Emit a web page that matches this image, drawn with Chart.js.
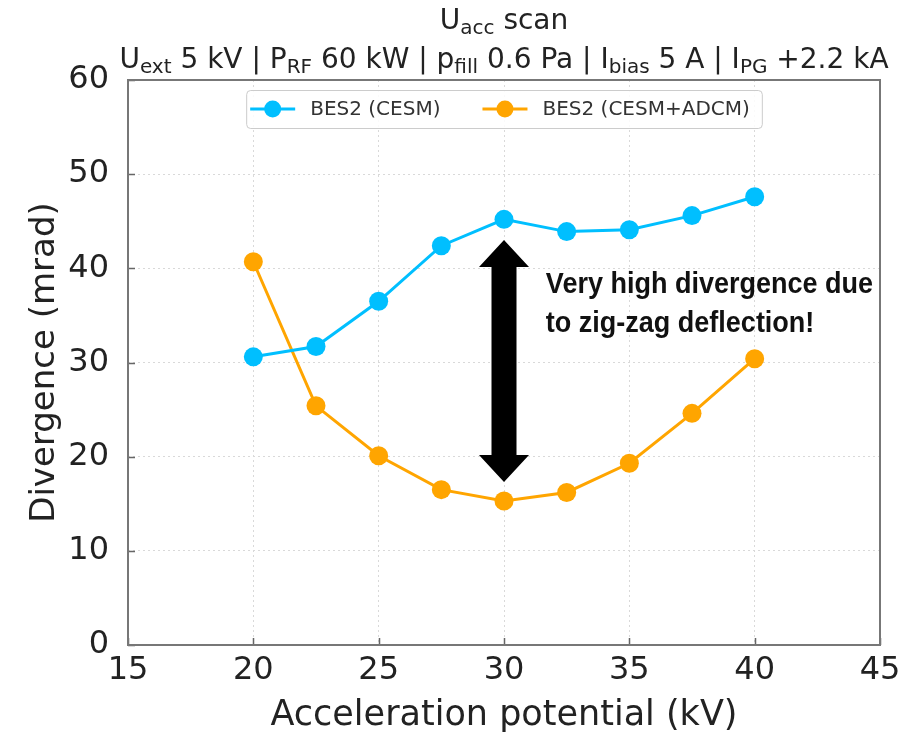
<!DOCTYPE html>
<html>
<head>
<meta charset="utf-8">
<script src="https://cdn.jsdelivr.net/npm/chart.js@4.4.1/dist/chart.umd.min.js"></script>
<style>
  html, body { margin: 0; padding: 0; background: #fff; }
</style>
</head>
<body>
<canvas id="scanChart" width="910" height="737"></canvas>
<script>
// Acceleration voltage scan, beam divergence per configuration
const accVoltage = [20, 22.5, 25, 27.5, 30, 32.5, 35, 37.5, 40];
const divCESM = [30.6, 31.7, 36.5, 42.4, 45.2, 43.9, 44.1, 45.6, 47.6];
const divCESMADCM = [40.7, 25.4, 20.1, 16.5, 15.3, 16.2, 19.3, 24.6, 30.4];
const seriesLabels = ['BES2 (CESM)', 'BES2 (CESM+ADCM)'];
const seriesColors = ['#00BFFF', '#FFA500'];

const xTicks = [15, 20, 25, 30, 35, 40, 45];
const yTicks = [0, 10, 20, 30, 40, 50, 60];

// title lines: [text, isSubscript]
const titleLine1 = [['U', false], ['acc', true], [' scan', false]];
const titleLine2 = [
    ['U', false], ['ext', true], [' 5 kV | P', false], ['RF', true],
    [' 60 kW | p', false], ['fill', true], [' 0.6 Pa | I', false], ['bias', true],
    [' 5 A | I', false], ['PG', true], [' +2.2 kA', false]
];

// double arrow between the two curves (data units)
const arrowX = 30;
const arrowFrom = 17.3;
const arrowTo = 43.0;
const noteLines = ['Very high divergence due', 'to zig-zag deflection!'];
const noteX = 31.67;
const noteY = [37.4, 33.2];

const FONT = "'DejaVu Sans', sans-serif";
const NOTE_FONT = "bold 30px 'Liberation Sans', Arial, sans-serif";
const NOTE_SQUEEZE = 0.9;

function drawRichLine(ctx, parts, cx, baseline, size) {
    const mainFont = size + 'px ' + FONT;
    const subFont = Math.round(size * 0.7) + 'px ' + FONT;
    let total = 0;
    parts.forEach(([t, sub]) => {
        ctx.font = sub ? subFont : mainFont;
        total += ctx.measureText(t).width;
    });
    let x = cx - total / 2;
    ctx.textAlign = 'left';
    ctx.textBaseline = 'alphabetic';
    parts.forEach(([t, sub]) => {
        ctx.font = sub ? subFont : mainFont;
        ctx.fillText(t, x, baseline + (sub ? size * 0.18 : 0));
        x += ctx.measureText(t).width;
    });
}

const decorations = {
    id: 'decorations',
    beforeDraw(chart) {
        const ctx = chart.ctx;
        ctx.save();
        ctx.fillStyle = '#fff';
        ctx.fillRect(0, 0, chart.width, chart.height);
        ctx.restore();
    },
    afterDatasetsDraw(chart) {
        const ctx = chart.ctx;
        const xs = chart.scales.x, ys = chart.scales.y;

        // black double-headed arrow
        const cx = xs.getPixelForValue(arrowX);
        const yTop = ys.getPixelForValue(arrowTo);
        const yBot = ys.getPixelForValue(arrowFrom);
        const headLen = 27, headHalf = 25, shaftHalf = 12.5;
        ctx.save();
        ctx.fillStyle = '#000';
        ctx.beginPath();
        ctx.moveTo(cx, yTop);
        ctx.lineTo(cx + headHalf, yTop + headLen);
        ctx.lineTo(cx + shaftHalf, yTop + headLen);
        ctx.lineTo(cx + shaftHalf, yBot - headLen);
        ctx.lineTo(cx + headHalf, yBot - headLen);
        ctx.lineTo(cx, yBot);
        ctx.lineTo(cx - headHalf, yBot - headLen);
        ctx.lineTo(cx - shaftHalf, yBot - headLen);
        ctx.lineTo(cx - shaftHalf, yTop + headLen);
        ctx.lineTo(cx - headHalf, yTop + headLen);
        ctx.closePath();
        ctx.fill();

        // note text, narrowed
        ctx.font = NOTE_FONT;
        ctx.fillStyle = '#111';
        ctx.textAlign = 'left';
        ctx.textBaseline = 'alphabetic';
        noteLines.forEach((line, i) => {
            ctx.save();
            ctx.translate(xs.getPixelForValue(noteX), ys.getPixelForValue(noteY[i]));
            ctx.scale(NOTE_SQUEEZE, 1);
            ctx.fillText(line, 0, 0);
            ctx.restore();
        });
        ctx.restore();
    },
    afterDraw(chart) {
        const ctx = chart.ctx;
        const area = chart.chartArea;
        const xs = chart.scales.x, ys = chart.scales.y;
        ctx.save();

        // inward ticks on left and bottom
        ctx.strokeStyle = '#666';
        ctx.lineWidth = 1.5;
        ctx.beginPath();
        xTicks.forEach(v => {
            const px = Math.round(xs.getPixelForValue(v)) + 0.5;
            ctx.moveTo(px, area.bottom);
            ctx.lineTo(px, area.bottom - 7);
        });
        yTicks.forEach(v => {
            const py = Math.round(ys.getPixelForValue(v)) + 0.5;
            ctx.moveTo(area.left, py);
            ctx.lineTo(area.left + 7, py);
        });
        ctx.stroke();

        // frame
        ctx.strokeStyle = '#777';
        ctx.lineWidth = 2;
        ctx.strokeRect(area.left, area.top, area.right - area.left, area.bottom - area.top);

        // titles
        const mid = (area.left + area.right) / 2;
        ctx.fillStyle = '#222';
        drawRichLine(ctx, titleLine1, mid, 29, 28);
        drawRichLine(ctx, titleLine2, mid, 68, 28);

        // legend (line + marker samples)
        const ds = chart.data.datasets;
        ctx.font = '20px ' + FONT;
        const padL = 4, padR = 12, lineLen = 45, gapText = 15, gapItem = 42;
        const widths = ds.map(d => ctx.measureText(d.label).width);
        const total = padL + padR + widths.reduce((a, w) => a + w, 0) +
            ds.length * (lineLen + gapText) + (ds.length - 1) * gapItem;
        const boxL = mid - total / 2, boxT = area.top + 10, boxH = 38;
        ctx.fillStyle = 'rgba(255,255,255,0.85)';
        ctx.strokeStyle = '#cccccc';
        ctx.lineWidth = 1;
        ctx.beginPath();
        ctx.roundRect(boxL + 0.5, boxT + 0.5, total, boxH, 4);
        ctx.fill();
        ctx.stroke();
        let x = boxL + padL;
        const cy = boxT + boxH / 2;
        ds.forEach((d, i) => {
            ctx.strokeStyle = d.borderColor;
            ctx.lineWidth = 3;
            ctx.beginPath();
            ctx.moveTo(x, cy);
            ctx.lineTo(x + lineLen, cy);
            ctx.stroke();
            ctx.fillStyle = d.backgroundColor;
            ctx.beginPath();
            ctx.arc(x + lineLen / 2, cy, 8.5, 0, Math.PI * 2);
            ctx.fill();
            x += lineLen + gapText;
            ctx.fillStyle = '#333';
            ctx.textAlign = 'left';
            ctx.textBaseline = 'middle';
            ctx.fillText(d.label, x, cy + 1);
            x += widths[i] + gapItem;
        });
        ctx.restore();
    }
};

function makeSeries(label, values, color) {
    return {
        label: label,
        data: accVoltage.map((v, i) => ({ x: v, y: values[i] })),
        borderColor: color,
        backgroundColor: color,
        borderWidth: 3,
        pointRadius: 9.5,
        pointBorderWidth: 0,
        pointBackgroundColor: color,
        tension: 0
    };
}

new Chart(document.getElementById('scanChart'), {
    type: 'line',
    data: {
        datasets: [
            makeSeries(seriesLabels[0], divCESM, seriesColors[0]),
            makeSeries(seriesLabels[1], divCESMADCM, seriesColors[1])
        ]
    },
    options: {
        responsive: false,
        animation: false,
        layout: { padding: { left: 0, right: 30, top: 80, bottom: 0 } },
        plugins: {
            legend: { display: false },
            title: { display: false },
            tooltip: { enabled: false }
        },
        scales: {
            x: {
                type: 'linear',
                min: 15,
                max: 45,
                afterBuildTicks: scale => { scale.ticks = xTicks.map(v => ({ value: v })); },
                afterFit: scale => { scale.height = 92; },
                ticks: {
                    color: '#222',
                    padding: 6,
                    font: { family: FONT, size: 32 }
                },
                grid: { color: '#d9d9d9', lineWidth: 1, drawTicks: false },
                border: { display: false, dash: [2, 3] },
                title: {
                    display: true,
                    text: 'Acceleration potential (kV)',
                    color: '#222',
                    padding: { top: 0, bottom: 0 },
                    font: { family: FONT, size: 35 }
                }
            },
            y: {
                min: 0,
                max: 60,
                afterBuildTicks: scale => { scale.ticks = yTicks.map(v => ({ value: v })); },
                afterFit: scale => { scale.width = 128; },
                ticks: {
                    color: '#222',
                    padding: 19,
                    font: { family: FONT, size: 32 }
                },
                grid: { color: '#d9d9d9', lineWidth: 1, drawTicks: false },
                border: { display: false, dash: [2, 3] },
                title: {
                    display: true,
                    text: 'Divergence (mrad)',
                    color: '#222',
                    padding: { top: 25, bottom: 0 },
                    font: { family: FONT, size: 34 }
                }
            }
        }
    },
    plugins: [decorations]
});
</script>
</body>
</html>
